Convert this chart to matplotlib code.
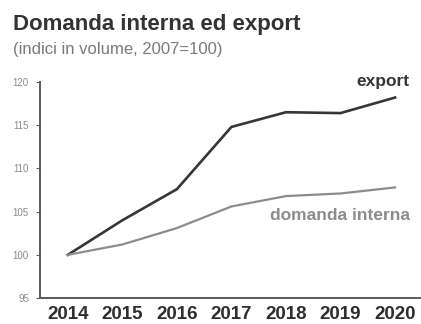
import matplotlib
matplotlib.use("Agg")
import matplotlib.pyplot as plt

plt.rcParams["font.family"] = ["Liberation Sans", "DejaVu Sans"]

years = [2014, 2015, 2016, 2017, 2018, 2019, 2020]
export = [100.0, 104.0, 107.6, 114.8, 116.5, 116.4, 118.2]
domanda_interna = [100.0, 101.2, 103.1, 105.6, 106.8, 107.1, 107.8]
y_ticks = [95, 100, 105, 110, 115, 120]

DARK, MID, AXIS = "#363636", "#8c8c8c", "#5a5a5a"

fig = plt.figure(figsize=(4.21, 3.24), dpi=100)
ax = fig.add_axes([0.095, 0.080, 0.903, 0.667])

ax.plot(years, export, color=DARK, lw=1.9, solid_joinstyle="round")
ax.plot(years, domanda_interna, color=MID, lw=1.6, solid_joinstyle="round")

ax.set_xlim(2013.49, 2020.46)
ax.set_ylim(95, 120)
ax.set_xticks(years)
ax.set_xticklabels([str(y) for y in years], fontsize=13.5,
                   fontweight="bold", color="#2e2e2e")
ax.set_yticks(y_ticks)
ax.set_yticklabels([str(v) for v in y_ticks], fontsize=7, color="#8a8a8a")
ax.tick_params(axis="x", length=0, pad=6)
ax.tick_params(axis="y", length=3, width=0.8, color=AXIS, pad=5)

for s in ("top", "right"):
    ax.spines[s].set_visible(False)
for s in ("left", "bottom"):
    ax.spines[s].set_color(AXIS)
    ax.spines[s].set_linewidth(1.4)

# series labels placed beside the lines
ax.text(2020.27, 120.0, "export", fontsize=12.5, fontweight="bold",
        color=DARK, ha="right", va="center")
ax.text(2020.27, 104.6, "domanda interna", fontsize=12.5,
        fontweight="bold", color=MID, ha="right", va="center")

fig.text(0.031, 0.924, "Domanda interna ed export", fontsize=16,
         fontweight="bold", color="#333333", va="center")
fig.text(0.031, 0.848, "(indici in volume, 2007=100)", fontsize=12,
         color="#7a7a7a", va="center")

fig.savefig("out.png", dpi=100)
